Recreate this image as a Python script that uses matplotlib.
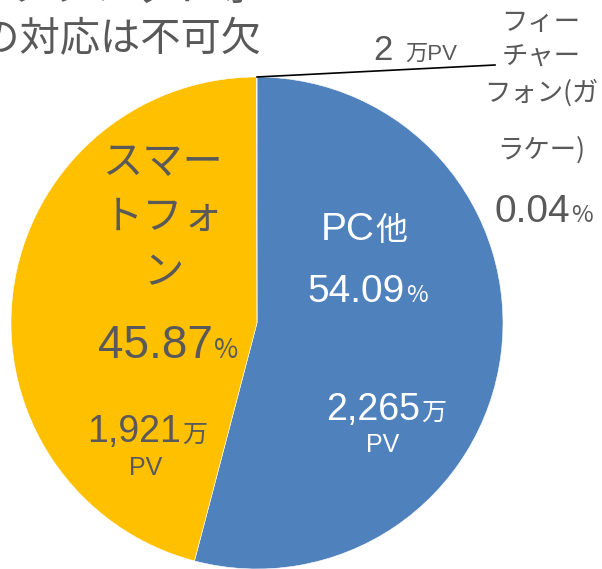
import matplotlib.pyplot as plt

# PV内訳（端末別）
labels = ['PC他', 'スマートフォン', 'フィーチャーフォン(ガラケー)']
shares = [54.09, 45.87, 0.04]
pv_man = [2265, 1921, 2]
colors = ['#4F81BD', '#FFC000', '#A5A5A5']

W, H = 602, 569
R = 246
CX, CY = 257, 323

GRAY = '#595959'
NUM = ['Liberation Sans', 'Noto Sans CJK JP']
JP = ['Noto Sans CJK JP', 'DejaVu Sans']


def px(x, y):
    # ピクセル位置 -> 円グラフ座標（半径1）
    return (x - CX) / R, (CY - y) / R


fig = plt.figure(figsize=(W / 100, H / 100), dpi=100)
ax = fig.add_axes([0, 0, 1, 1])

ax.pie(shares, colors=colors, startangle=90, counterclock=False,
       radius=1, wedgeprops=dict(linewidth=0.4, edgecolor='white'))
ax.set_xlim(px(0, 0)[0], px(W, 0)[0])
ax.set_ylim(px(0, H)[1], px(0, 0)[1])
ax.set_aspect('equal')
ax.axis('off')


def put(x, y, s, size, color=GRAY, family=JP, ha='center', va='baseline'):
    ax.text(*px(x, y), s, fontsize=size, color=color, family=family,
            ha=ha, va=va)


# タイトル（上端で切れている）
put(253, -12, 'スマートフォン・タブレット等', 29, va='center', ha='right')
put(262, 40, 'への対応は不可欠', 29, va='center', ha='right')

# スマートフォン
for y, line in zip([162, 217, 273], ['スマー', 'トフォ', 'ン']):
    put(163, y, line, 29, va='center')
put(213, 358, f'{shares[1]:.2f}', 33, family=NUM, ha='right')
put(214, 358, '%', 19, family=JP, ha='left')
put(181, 442, f'{pv_man[1]:,}', 27, family=NUM, ha='right')
put(182, 442, '万', 18, ha='left')
put(146, 475, 'PV', 18, family=NUM)

# PC他
put(375, 240, 'PC', 28, color='white', family=NUM, ha='right')
put(375, 240, '他', 23, color='white', ha='left')
put(405, 302, f'{shares[0]:.2f}', 28, color='white', family=NUM, ha='right')
put(406, 302, '%', 17, color='white', family=JP, ha='left')
put(420, 420, f'{pv_man[0]:,}', 27, color='white', family=NUM, ha='right')
put(421, 420, '万', 18, color='white', ha='left')
put(383, 452, 'PV', 18, color='white', family=NUM)

# フィーチャーフォン（引き出し線）
x1, y1 = px(495, 65)
ax.plot([0, x1], [1.0, y1], color='black', linewidth=1.2)
put(393, 60, f'{pv_man[2]}', 25, family=NUM, ha='right')
put(405, 60, '万PV', 16, family=NUM + JP, ha='left')
for y, line in zip([22, 57, 93, 150], ['フィー', 'チャー', 'フォン(ガ', 'ラケー)']):
    put(541, y, line, 19, va='center')
put(570, 222, f'{shares[2]:.2f}', 28, family=NUM, ha='right')
put(571, 222, '%', 17, family=JP, ha='left')

fig.savefig('out.png', dpi=100)
